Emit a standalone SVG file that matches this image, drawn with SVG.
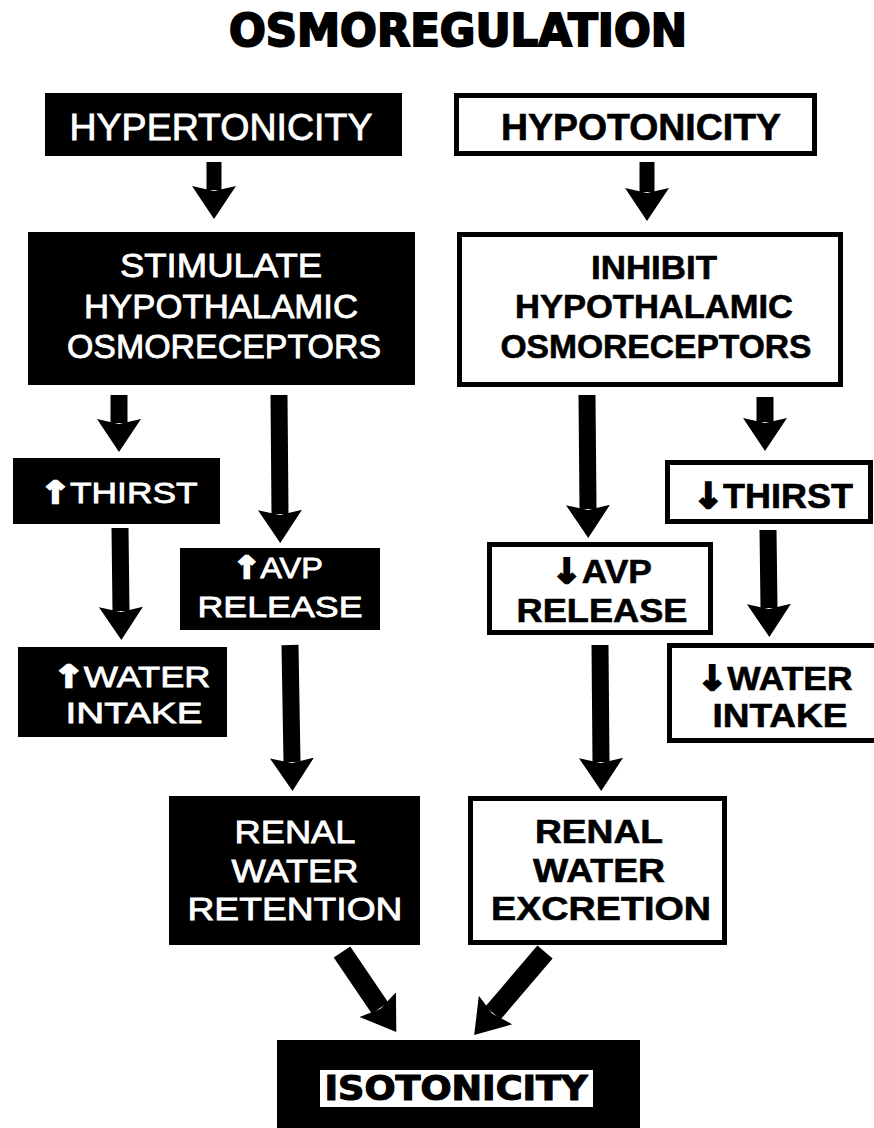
<svg xmlns="http://www.w3.org/2000/svg" width="874" height="1128" viewBox="0 0 874 1128">
<style>
.blk{fill:#000}
.wht{fill:#fff;stroke:#000;stroke-width:5}
.tw{fill:#fff;stroke:#fff;stroke-width:0.8;font-family:"Liberation Sans",Arial,sans-serif;text-anchor:middle}
.tb{fill:#000;stroke:#000;stroke-width:0.6;font-family:"Liberation Sans",Arial,sans-serif;font-weight:bold;text-anchor:middle}
.ar{font-family:"DejaVu Sans",sans-serif;font-weight:bold;stroke-width:2.5}
.conn line{stroke:#000;stroke-width:17;marker-end:url(#head)}
</style>
<defs>
<marker id="head" markerUnits="userSpaceOnUse" viewBox="0 -24 40 48" refX="4" refY="0" markerWidth="40" markerHeight="48" orient="auto">
<path d="M0,-22 L33,0 L0,22 L5,0 Z" fill="#000"/>
</marker>
</defs>
<rect width="874" height="1128" fill="#fff"/>
<text x="458" y="46" font-family="'DejaVu Sans',sans-serif" font-weight="bold" font-size="44" text-anchor="middle" textLength="458" lengthAdjust="spacingAndGlyphs" fill="#000" stroke="#000" stroke-width="2">OSMOREGULATION</text>

<g id="hypertonicity">
<rect class="blk" x="45" y="93" width="357" height="63"/>
<text class="tw" x="221" y="140" font-size="37" textLength="303" lengthAdjust="spacingAndGlyphs">HYPERTONICITY</text>
</g>
<g id="hypotonicity">
<rect class="wht" x="456.5" y="95.5" width="358" height="58"/>
<text class="tb" x="641" y="140" font-size="36" textLength="280" lengthAdjust="spacingAndGlyphs">HYPOTONICITY</text>
</g>
<g id="stimulate">
<rect class="blk" x="28" y="232" width="387" height="153"/>
<text class="tw" x="221" y="277" font-size="33" textLength="202" lengthAdjust="spacingAndGlyphs">STIMULATE</text>
<text class="tw" x="221" y="318" font-size="33" textLength="274" lengthAdjust="spacingAndGlyphs">HYPOTHALAMIC</text>
<text class="tw" x="224" y="358" font-size="33" textLength="314" lengthAdjust="spacingAndGlyphs">OSMORECEPTORS</text>
</g>
<g id="inhibit">
<rect class="wht" x="459.5" y="234.5" width="381" height="150"/>
<text class="tb" x="654" y="279" font-size="33" textLength="126" lengthAdjust="spacingAndGlyphs">INHIBIT</text>
<text class="tb" x="654" y="318" font-size="33" textLength="278" lengthAdjust="spacingAndGlyphs">HYPOTHALAMIC</text>
<text class="tb" x="656" y="358" font-size="33" textLength="311" lengthAdjust="spacingAndGlyphs">OSMORECEPTORS</text>
</g>
<g id="thirst-up">
<rect class="blk" x="13" y="458" width="207" height="66"/>
<text class="tw" x="119" y="503" font-size="30" textLength="157" lengthAdjust="spacingAndGlyphs"><tspan class="ar">↑</tspan>THIRST</text>
</g>
<g id="avp-up">
<rect class="blk" x="180" y="548" width="200" height="82"/>
<text class="tw" x="278" y="578" font-size="30" textLength="90" lengthAdjust="spacingAndGlyphs"><tspan class="ar">↑</tspan>AVP</text>
<text class="tw" x="280" y="617" font-size="30" textLength="165" lengthAdjust="spacingAndGlyphs">RELEASE</text>
</g>
<g id="water-up">
<rect class="blk" x="18" y="647" width="209" height="90"/>
<text class="tw" x="132" y="687" font-size="30" textLength="157" lengthAdjust="spacingAndGlyphs"><tspan class="ar">↑</tspan>WATER</text>
<text class="tw" x="134" y="723" font-size="30" textLength="137" lengthAdjust="spacingAndGlyphs">INTAKE</text>
</g>
<g id="thirst-down">
<rect class="wht" x="667.5" y="462.5" width="203" height="59"/>
<text class="tb" x="773" y="508" font-size="35" textLength="160" lengthAdjust="spacingAndGlyphs"><tspan class="ar">↓</tspan>THIRST</text>
</g>
<g id="avp-down">
<rect class="wht" x="489.5" y="544.5" width="221" height="88"/>
<text class="tb" x="602" y="583" font-size="34" textLength="100" lengthAdjust="spacingAndGlyphs"><tspan class="ar">↓</tspan>AVP</text>
<text class="tb" x="602" y="622" font-size="34" textLength="171" lengthAdjust="spacingAndGlyphs">RELEASE</text>
</g>
<g id="water-down">
<rect class="wht" x="669.5" y="645.5" width="210" height="95"/>
<text class="tb" x="775" y="690" font-size="34" textLength="155" lengthAdjust="spacingAndGlyphs"><tspan class="ar">↓</tspan>WATER</text>
<text class="tb" x="780" y="727" font-size="34" textLength="135" lengthAdjust="spacingAndGlyphs">INTAKE</text>
</g>
<g id="retention">
<rect class="blk" x="169" y="796" width="251" height="149"/>
<text class="tw" x="295" y="843" font-size="31" textLength="121" lengthAdjust="spacingAndGlyphs">RENAL</text>
<text class="tw" x="295" y="882" font-size="31" textLength="127" lengthAdjust="spacingAndGlyphs">WATER</text>
<text class="tw" x="295" y="920" font-size="31" textLength="215" lengthAdjust="spacingAndGlyphs">RETENTION</text>
</g>
<g id="excretion">
<rect class="wht" x="470.5" y="798.5" width="254" height="144"/>
<text class="tb" x="599" y="843" font-size="33" textLength="128" lengthAdjust="spacingAndGlyphs">RENAL</text>
<text class="tb" x="599" y="882" font-size="33" textLength="132" lengthAdjust="spacingAndGlyphs">WATER</text>
<text class="tb" x="601" y="920" font-size="33" textLength="220" lengthAdjust="spacingAndGlyphs">EXCRETION</text>
</g>
<g id="isotonicity">
<rect class="blk" x="277" y="1040" width="363" height="88"/>
<rect x="320" y="1070" width="273" height="37" fill="#fff"/>
<text x="456" y="1100" font-family="'DejaVu Sans',sans-serif" font-weight="bold" font-size="34" text-anchor="middle" textLength="263" lengthAdjust="spacingAndGlyphs" fill="#000" stroke="#000" stroke-width="1.2">ISOTONICITY</text>
</g>

<g id="connectors" class="conn">
<line x1="214" y1="162" x2="214" y2="190" style="stroke-width:15"/>
<line x1="647" y1="162" x2="647" y2="192" style="stroke-width:15"/>
<line x1="119" y1="395" x2="119" y2="423"/>
<line x1="279" y1="395" x2="280" y2="514"/>
<line x1="120" y1="528" x2="121" y2="611"/>
<line x1="290" y1="645" x2="292" y2="762"/>
<line x1="587" y1="395" x2="588" y2="509"/>
<line x1="765" y1="397" x2="765" y2="422"/>
<line x1="768" y1="530" x2="769" y2="608"/>
<line x1="600" y1="645" x2="601" y2="762"/>
<line x1="342" y1="952" x2="380" y2="1008" style="stroke-width:20"/>
<line x1="545" y1="952" x2="493" y2="1013" style="stroke-width:20"/>
</g>
</svg>
